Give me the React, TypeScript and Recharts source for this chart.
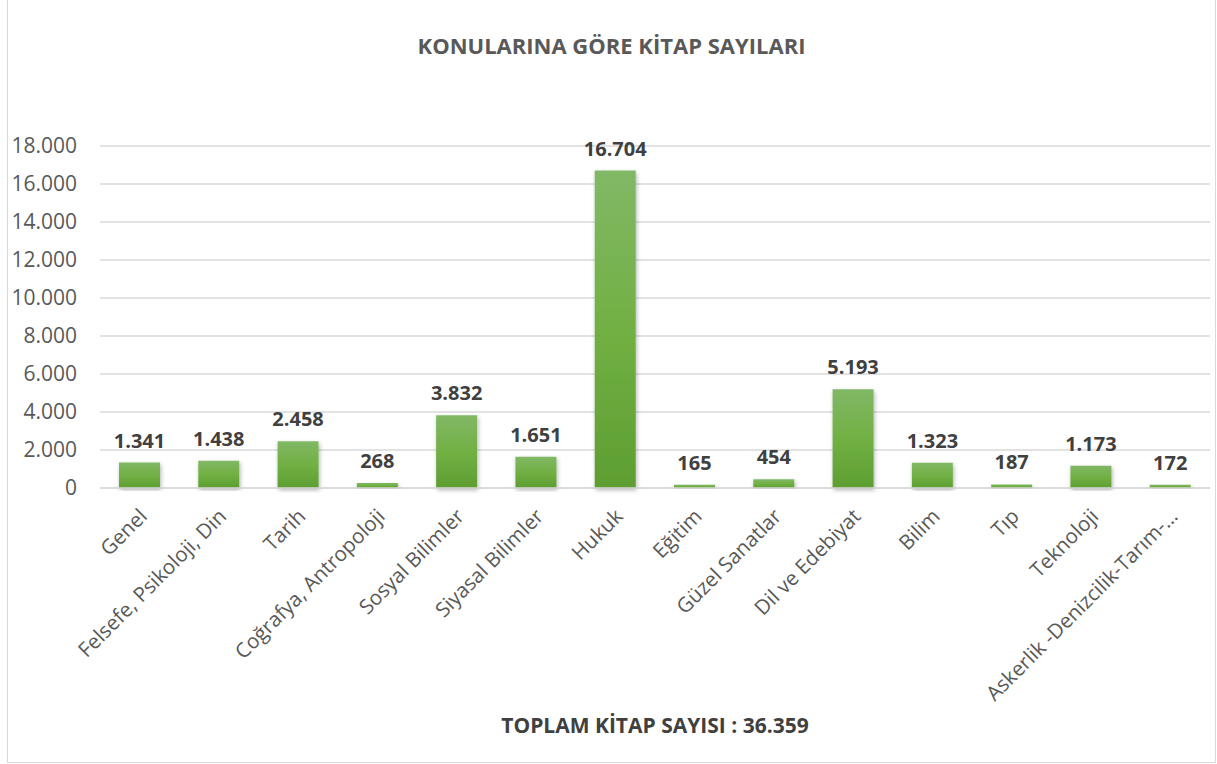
import React from "react"
import { BarChart, Bar, XAxis, YAxis, CartesianGrid, LabelList } from "recharts"

const categories = [
  "Genel",
  "Felsefe, Psikoloji, Din",
  "Tarih",
  "Coğrafya, Antropoloji",
  "Sosyal Bilimler",
  "Siyasal Bilimler",
  "Hukuk",
  "Eğitim",
  "Güzel Sanatlar",
  "Dil ve Edebiyat",
  "Bilim",
  "Tıp",
  "Teknoloji",
  "Askerlik -Denizcilik-Tarım-…",
]
const bookCounts = [1341, 1438, 2458, 268, 3832, 1651, 16704, 165, 454, 5193, 1323, 187, 1173, 172]
const yTicks = [0, 2000, 4000, 6000, 8000, 10000, 12000, 14000, 16000, 18000]

const title = "KONULARINA GÖRE KİTAP SAYILARI"
const totalLabel = "TOPLAM KİTAP SAYISI : 36.359"

const data = categories.map((name, i) => ({ name, value: bookCounts[i] }))

const fmt = (v: number) => String(v).replace(/\B(?=(\d{3})+(?!\d))/g, ".")

const FONT = "'Open Sans', sans-serif"

function XTick(props: any) {
  const { x, y, payload } = props
  return (
    <g transform={`translate(${x + 3},${y + 16})`}>
      <text
        transform="rotate(-45)"
        textAnchor="end"
        dominantBaseline="central"
        fontFamily={FONT}
        fontSize={20.5}
        fill="#595959"
      >
        {payload.value}
      </text>
    </g>
  )
}

export default function App() {
  return (
    <div
      style={{
        position: "absolute",
        left: 7,
        top: 0,
        width: 1207,
        height: 762,
        borderLeft: "1px solid #d9d9d9",
        borderRight: "1px solid #d9d9d9",
        borderBottom: "1px solid #d9d9d9",
        background: "#fff",
        fontFamily: FONT,
      }}
    >
      <div
        style={{
          position: "absolute",
          top: 30,
          left: 0,
          width: 1207,
          textAlign: "center",
          fontWeight: 700,
          fontSize: 22,
          color: "#595959",
        }}
      >
        {title}
      </div>
      <BarChart
        width={1207}
        height={762}
        data={data}
        margin={{ top: 146, right: 5, bottom: 0, left: 12 }}
      >
        <defs>
          <linearGradient id="barFill" x1="0" y1="0" x2="0" y2="1">
            <stop offset="0%" stopColor="#81b866" />
            <stop offset="50%" stopColor="#71b043" />
            <stop offset="100%" stopColor="#5e9e32" />
          </linearGradient>
          <filter id="barShadow" x="-20%" y="-5%" width="140%" height="115%">
            <feDropShadow dx="1" dy="2" stdDeviation="2" floodColor="#000" floodOpacity="0.3" />
          </filter>
        </defs>
        <CartesianGrid vertical={false} stroke="#d9d9d9" strokeWidth={1.3} />
        <XAxis
          dataKey="name"
          interval={0}
          height={274}
          tick={<XTick />}
          tickLine={false}
          axisLine={{ stroke: "#d9d9d9", strokeWidth: 1.5 }}
        />
        <YAxis
          width={80}
          domain={[0, 18000]}
          ticks={yTicks}
          tickFormatter={fmt}
          tickLine={false}
          axisLine={false}
          tickSize={0}
          tickMargin={23}
          tick={{ fontFamily: FONT, fontSize: 21, fill: "#595959" }}
        />
        <Bar
          dataKey="value"
          barSize={41}
          fill="url(#barFill)"
          filter="url(#barShadow)"
          isAnimationActive={false}
        >
          <LabelList
            dataKey="value"
            position="top"
            offset={15}
            formatter={(v: any) => fmt(Number(v))}
            style={{ fontFamily: FONT, fontSize: 20, fontWeight: 700, fill: "#404040" }}
          />
        </Bar>
      </BarChart>
      <div
        style={{
          position: "absolute",
          top: 711,
          left: 92,
          width: 1110,
          textAlign: "center",
          fontWeight: 700,
          fontSize: 21,
          color: "#404040",
        }}
      >
        {totalLabel}
      </div>
    </div>
  )
}
